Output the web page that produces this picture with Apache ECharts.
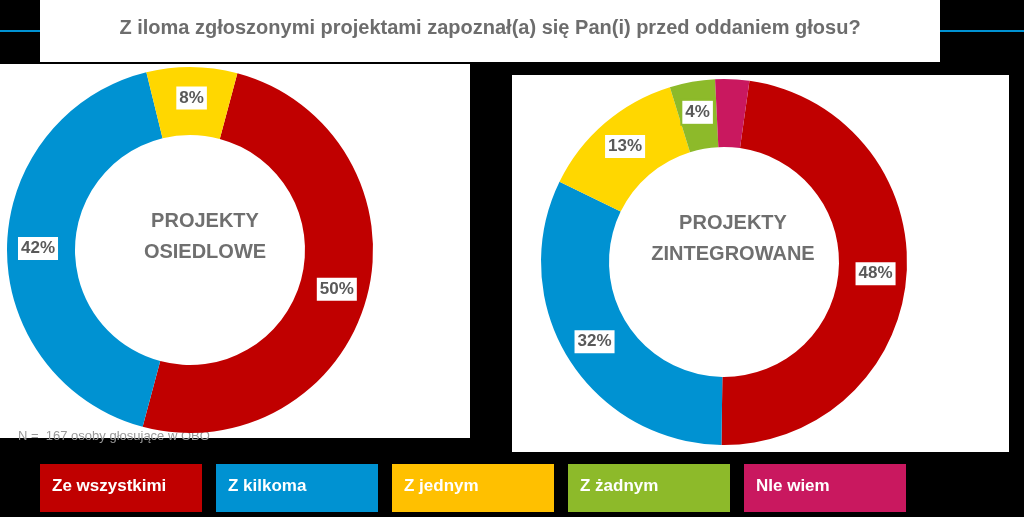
<!DOCTYPE html>
<html>
<head>
<meta charset="utf-8">
<script src="https://cdn.jsdelivr.net/npm/echarts@6/dist/echarts.min.js"></script>
<style>
  html, body { margin: 0; padding: 0; background: #000; }
  #chart { width: 1024px; height: 517px; }
</style>
</head>
<body>
<div id="chart"></div>
<script>
const categories = ["Ze wszystkimi", "Z kilkoma", "Z jednym", "Z żadnym", "NIe wiem"];
const colors = ["#C00000", "#0092D2", "#FFD700", "#8DBA2A", "#C9185F"];
const legendColors = ["#C00000", "#0092D2", "#FFC000", "#8DBA2A", "#C9185F"];
const osiedloweValues = [50, 42, 8];
const zintegrowaneValues = [48, 32, 13, 4, 3];

const chart = echarts.init(document.getElementById("chart"));

function pieSeries(values, center, startAngle) {
  return {
    type: "pie",
    center: center,
    radius: [115, 183],
    startAngle: startAngle,
    silent: true,
    data: values.map((v, i) => ({
      name: categories[i],
      value: v,
      itemStyle: { color: colors[i] },
      label: {
        show: true,
        position: "inside",
        formatter: "{c}%",
        color: "#595959",
        fontWeight: "bold",
        fontSize: 17,
        fontFamily: "Liberation Sans",
        backgroundColor: "#fff",
        borderColor: colors[i],
        borderWidth: 2,
        padding: [4, 3, 2, 3]
      }
    })),
    labelLine: { show: false },
    emphasis: { disabled: true }
  };
}

const legendItems = categories.map((c, i) => {
  const x = 40 + i * 176;
  return {
    type: "group",
    children: [
      { type: "rect", shape: { x: x, y: 464, width: 162, height: 48 }, style: { fill: legendColors[i] } },
      { type: "text", x: x + 12, y: 478, style: { text: c, fill: "#fff", font: "bold 17px Liberation Sans" } }
    ]
  };
});

chart.setOption({
  backgroundColor: "#000",
  graphic: [
    { type: "rect", z: -10, shape: { x: 0, y: 30, width: 1024, height: 2 }, style: { fill: "#0092D2" } },
    { type: "rect", z: -5, shape: { x: 40, y: 0, width: 900, height: 62 }, style: { fill: "#fff" } },
    { type: "text", x: 490, y: 28, style: { text: "Z iloma zgłoszonymi projektami zapoznał(a) się Pan(i) przed oddaniem głosu?", fill: "#6d6d6d", font: "bold 20px Liberation Sans", align: "center", verticalAlign: "middle" } },
    { type: "rect", z: -5, shape: { x: 0, y: 64, width: 470, height: 374 }, style: { fill: "#fff" } },
    { type: "rect", z: -5, shape: { x: 512, y: 75, width: 497, height: 377 }, style: { fill: "#fff" } },
    { type: "text", x: 205, y: 237, style: { text: "PROJEKTY\nOSIEDLOWE", fill: "#6f6f6f", font: "bold 20px Liberation Sans", align: "center", verticalAlign: "middle", lineHeight: 31 } },
    { type: "text", x: 733, y: 239, style: { text: "PROJEKTY\nZINTEGROWANE", fill: "#6f6f6f", font: "bold 20px Liberation Sans", align: "center", verticalAlign: "middle", lineHeight: 31 } },
    { type: "text", x: 18, y: 430, style: { text: "N =  167 osoby głosujące w OBO", fill: "#999", font: "13px Liberation Sans" } },
    ...legendItems
  ],
  series: [
    pieSeries(osiedloweValues, [190, 250], 75),
    pieSeries(zintegrowaneValues, [724, 262], 82)
  ]
});
</script>
</body>
</html>
